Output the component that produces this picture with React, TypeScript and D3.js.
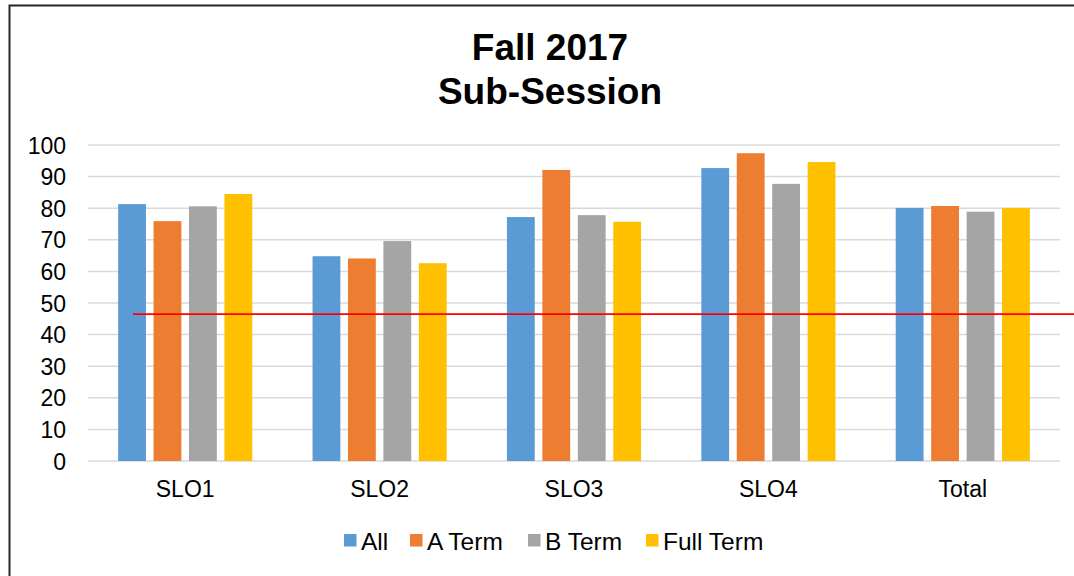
import React, { useEffect, useRef } from "react";
import * as d3 from "d3";

const categories = ["SLO1", "SLO2", "SLO3", "SLO4", "Total"];
const seriesNames = ["All", "A Term", "B Term", "Full Term"];
const allValues = [81.3, 64.8, 77.2, 92.7, 80.1];
const aTermValues = [75.9, 64.1, 92.1, 97.4, 80.7];
const bTermValues = [80.6, 69.6, 77.8, 87.7, 78.9];
const fullTermValues = [84.5, 62.6, 75.7, 94.6, 80.1];
const yTicks = [0, 10, 20, 30, 40, 50, 60, 70, 80, 90, 100];
const targetLine = 46.5;
const colors = ["#5B9BD5", "#ED7D31", "#A5A5A5", "#FFC000"];

const App = () => {
    const ref = useRef<SVGSVGElement>(null);

    useEffect(() => {
        const width = 1074;
        const height = 576;
        const left = 88, right = 1060, top = 145, bottom = 461;
        const font = "Arial, 'Liberation Sans', sans-serif";

        const svg = d3.select(ref.current);
        svg.selectAll("*").remove();
        svg.attr("width", width).attr("height", height);

        const series = [allValues, aTermValues, bTermValues, fullTermValues];

        // frame of the chart area
        svg.append("rect")
            .attr("x", 9.5).attr("y", 5.5)
            .attr("width", width + 20).attr("height", height + 20)
            .attr("fill", "white")
            .attr("stroke", "#262626")
            .attr("stroke-width", 2);

        // title
        const title = svg.append("text")
            .attr("text-anchor", "middle")
            .style("font-family", font)
            .style("font-size", "37px")
            .style("font-weight", "bold")
            .attr("fill", "#000");
        title.append("tspan").attr("x", 550).attr("y", 60).text("Fall 2017");
        title.append("tspan").attr("x", 550).attr("y", 104).text("Sub-Session");

        const y = d3.scaleLinear().domain([0, 100]).range([bottom, top]);
        const x0 = d3.scaleBand<string>()
            .domain(categories)
            .range([left, right])
            .paddingInner(0.31)
            .paddingOuter(0.155);
        const x1 = d3.scaleBand<string>()
            .domain(seriesNames)
            .range([0, x0.bandwidth()])
            .paddingInner(0.215)
            .paddingOuter(0);

        // gridlines
        svg.append("g")
            .selectAll("line")
            .data(yTicks)
            .enter()
            .append("line")
            .attr("x1", left).attr("x2", right)
            .attr("y1", d => y(d)).attr("y2", d => y(d))
            .attr("stroke", "#d9d9d9")
            .attr("stroke-width", 1.5);

        // y tick labels
        svg.append("g")
            .selectAll("text")
            .data(yTicks)
            .enter()
            .append("text")
            .attr("x", 66)
            .attr("y", d => y(d) + 8.5)
            .attr("text-anchor", "end")
            .style("font-family", font)
            .style("font-size", "23px")
            .attr("fill", "#000")
            .text(d => d);

        // bars
        const groups = svg.append("g")
            .selectAll("g")
            .data(categories)
            .enter()
            .append("g")
            .attr("transform", d => "translate(" + x0(d) + ",0)");

        groups.selectAll("rect")
            .data((d, i) => seriesNames.map((s, j) => ({ s, j, v: series[j][i] })))
            .enter()
            .append("rect")
            .attr("x", d => x1(d.s)!)
            .attr("y", d => y(d.v))
            .attr("width", x1.bandwidth())
            .attr("height", d => bottom - y(d.v))
            .attr("fill", d => colors[d.j]);

        // category labels
        svg.append("g")
            .selectAll("text")
            .data(categories)
            .enter()
            .append("text")
            .attr("x", d => x0(d)! + x0.bandwidth() / 2)
            .attr("y", 497)
            .attr("text-anchor", "middle")
            .style("font-family", font)
            .style("font-size", "23px")
            .attr("fill", "#000")
            .text(d => d);

        // target line
        svg.append("line")
            .attr("x1", 133).attr("x2", width)
            .attr("y1", y(targetLine)).attr("y2", y(targetLine))
            .attr("stroke", "#FF0000")
            .attr("stroke-width", 1.8);

        // legend
        const legendX = [344, 410, 528, 646];
        const legend = svg.append("g")
            .selectAll("g")
            .data(seriesNames)
            .enter()
            .append("g")
            .attr("transform", (d, i) => "translate(" + legendX[i] + ",534)");
        legend.append("rect")
            .attr("width", 12.5).attr("height", 12.5)
            .attr("fill", (d, i) => colors[i]);
        legend.append("text")
            .attr("x", 17).attr("y", 16)
            .style("font-family", font)
            .style("font-size", "24.5px")
            .attr("fill", "#000")
            .text(d => d);
    }, []);

    return (
        <svg ref={ref} style={{ position: "absolute", left: 0, top: 0, display: "block" }}></svg>
    );
};

export default App;
